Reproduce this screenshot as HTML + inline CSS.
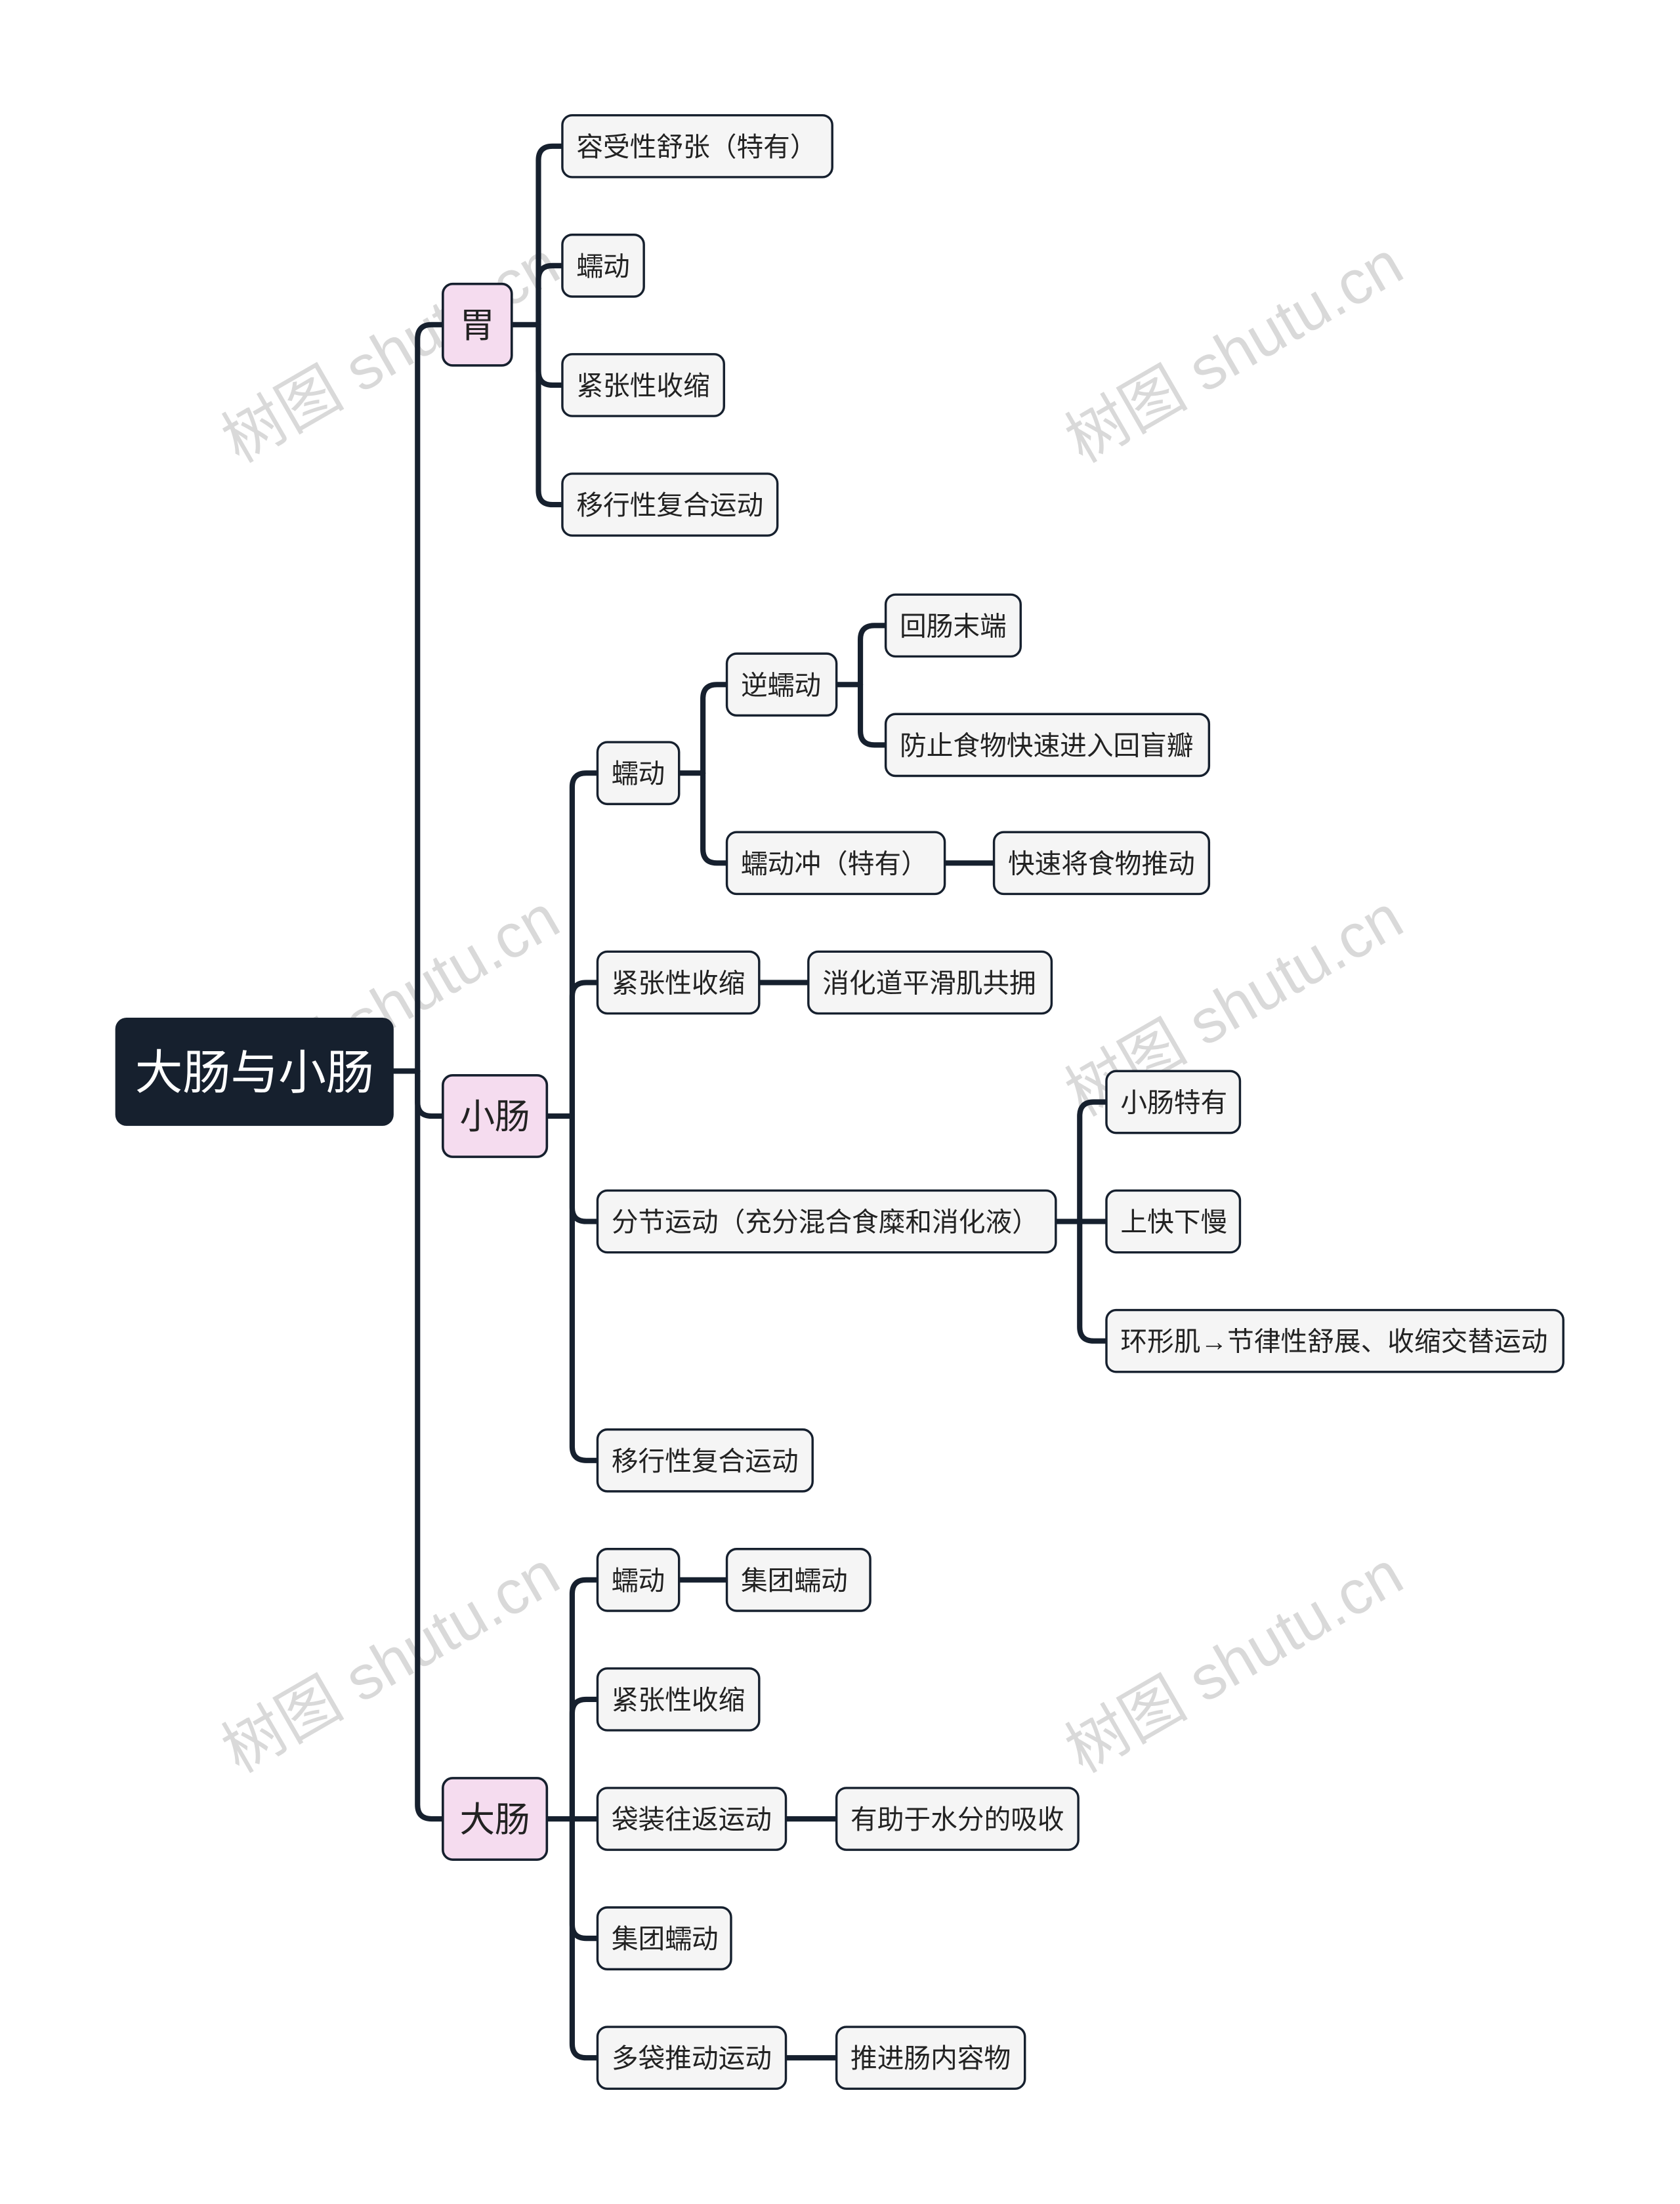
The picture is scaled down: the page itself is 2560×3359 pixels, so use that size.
<!DOCTYPE html>
<html><head><meta charset="utf-8"><style>
html,body{margin:0;padding:0;background:#fff;}
svg{display:block;}
text{font-family:"Liberation Sans","Noto Sans CJK SC",sans-serif;}
</style></head><body>
<svg width="2560" height="3359" viewBox="0 0 1195 1568" preserveAspectRatio="none" xmlns="http://www.w3.org/2000/svg">
<g fill="#bbb" opacity="0.55" font-size="44" font-family="Liberation Serif,Noto Serif CJK SC,serif">
<text transform="translate(170,330) rotate(-30)">树图 shutu.cn</text>
<text transform="translate(770,330) rotate(-30)">树图 shutu.cn</text>
<text transform="translate(170,795) rotate(-30)">树图 shutu.cn</text>
<text transform="translate(770,795) rotate(-30)">树图 shutu.cn</text>
<text transform="translate(170,1262) rotate(-30)">树图 shutu.cn</text>
<text transform="translate(770,1262) rotate(-30)">树图 shutu.cn</text>
</g>
<g fill="none" stroke="#16202e" stroke-width="3.8" stroke-linecap="round">
<path d="M280 762 H297"/>
<path d="M297 762 V241 Q297 231 307 231 H315"/>
<path d="M297 762 V784 Q297 794 307 794 H315"/>
<path d="M297 762 V1284 Q297 1294 307 1294 H315"/>
<path d="M364 231 H383"/>
<path d="M383 231 V114 Q383 104 393 104 H400"/>
<path d="M383 231 V199 Q383 189 393 189 H400"/>
<path d="M383 231 V264 Q383 274 393 274 H400"/>
<path d="M383 231 V349 Q383 359 393 359 H400"/>
<path d="M389 794 H407"/>
<path d="M407 794 V560 Q407 550 417 550 H425"/>
<path d="M407 794 V709 Q407 699 417 699 H425"/>
<path d="M407 794 V859 Q407 869 417 869 H425"/>
<path d="M407 794 V1029 Q407 1039 417 1039 H425"/>
<path d="M483 550 H500"/>
<path d="M500 550 V497 Q500 487 510 487 H517"/>
<path d="M500 550 V604 Q500 614 510 614 H517"/>
<path d="M595 487 H612"/>
<path d="M612 487 V455 Q612 445 622 445 H630"/>
<path d="M612 487 V520 Q612 530 622 530 H630"/>
<path d="M672 614 H707"/>
<path d="M540 699 H575"/>
<path d="M751 869 H768"/>
<path d="M768 869 V794 Q768 784 778 784 H787"/>
<path d="M768 869 H787"/>
<path d="M768 869 V944 Q768 954 778 954 H787"/>
<path d="M389 1294 H407"/>
<path d="M407 1294 V1134 Q407 1124 417 1124 H425"/>
<path d="M407 1294 V1219 Q407 1209 417 1209 H425"/>
<path d="M407 1294 H425"/>
<path d="M407 1294 V1369 Q407 1379 417 1379 H425"/>
<path d="M407 1294 V1454 Q407 1464 417 1464 H425"/>
<path d="M483 1124 H517"/>
<path d="M559 1294 H595"/>
<path d="M559 1464 H595"/>
</g>
<rect x="82" y="724" width="198" height="77" rx="8" fill="#16202e"/>
<text x="181" y="775" font-size="34" fill="#fff" text-anchor="middle">大肠与小肠</text>
<g fill="#f5dcef" stroke="#16202e" stroke-width="1.7">
<rect x="315" y="202" width="49" height="58" rx="7"/>
<rect x="315" y="765" width="74" height="58" rx="7"/>
<rect x="315" y="1265" width="74" height="58" rx="7"/>
</g>
<g font-size="25" fill="#222" text-anchor="middle">
<text x="339.5" y="240">胃</text>
<text x="352" y="803">小肠</text>
<text x="352" y="1303">大肠</text>
</g>
<g fill="#f5f5f5" stroke="#16202e" stroke-width="1.6">
<rect x="400" y="82" width="192" height="44" rx="7"/>
<rect x="400" y="167" width="58" height="44" rx="7"/>
<rect x="400" y="252" width="115" height="44" rx="7"/>
<rect x="400" y="337" width="153" height="44" rx="7"/>
<rect x="425" y="528" width="58" height="44" rx="7"/>
<rect x="517" y="465" width="78" height="44" rx="7"/>
<rect x="517" y="592" width="155" height="44" rx="7"/>
<rect x="630" y="423" width="96" height="44" rx="7"/>
<rect x="630" y="508" width="230" height="44" rx="7"/>
<rect x="707" y="592" width="153" height="44" rx="7"/>
<rect x="425" y="677" width="115" height="44" rx="7"/>
<rect x="575" y="677" width="173" height="44" rx="7"/>
<rect x="425" y="847" width="326" height="44" rx="7"/>
<rect x="787" y="762" width="95" height="44" rx="7"/>
<rect x="787" y="847" width="95" height="44" rx="7"/>
<rect x="787" y="932" width="325" height="44" rx="7"/>
<rect x="425" y="1017" width="153" height="44" rx="7"/>
<rect x="425" y="1102" width="58" height="44" rx="7"/>
<rect x="517" y="1102" width="102" height="44" rx="7"/>
<rect x="425" y="1187" width="115" height="44" rx="7"/>
<rect x="425" y="1272" width="134" height="44" rx="7"/>
<rect x="595" y="1272" width="172" height="44" rx="7"/>
<rect x="425" y="1357" width="95" height="44" rx="7"/>
<rect x="425" y="1442" width="134" height="44" rx="7"/>
<rect x="595" y="1442" width="134" height="44" rx="7"/>
</g>
<g font-size="19" fill="#222">
<text x="410" y="111">容受性舒张（特有）</text>
<text x="410" y="196">蠕动</text>
<text x="410" y="281">紧张性收缩</text>
<text x="410" y="366">移行性复合运动</text>
<text x="435" y="557">蠕动</text>
<text x="527" y="494">逆蠕动</text>
<text x="527" y="621">蠕动冲（特有）</text>
<text x="640" y="452">回肠末端</text>
<text x="640" y="537">防止食物快速进入回盲瓣</text>
<text x="717" y="621">快速将食物推动</text>
<text x="435" y="706">紧张性收缩</text>
<text x="585" y="706">消化道平滑肌共拥</text>
<text x="435" y="876">分节运动（充分混合食糜和消化液）</text>
<text x="797" y="791">小肠特有</text>
<text x="797" y="876">上快下慢</text>
<text x="797" y="961">环形肌→节律性舒展、收缩交替运动</text>
<text x="435" y="1046">移行性复合运动</text>
<text x="435" y="1131">蠕动</text>
<text x="527" y="1131">集团蠕动</text>
<text x="435" y="1216">紧张性收缩</text>
<text x="435" y="1301">袋装往返运动</text>
<text x="605" y="1301">有助于水分的吸收</text>
<text x="435" y="1386">集团蠕动</text>
<text x="435" y="1471">多袋推动运动</text>
<text x="605" y="1471">推进肠内容物</text>
</g>
</svg>
</body></html>
